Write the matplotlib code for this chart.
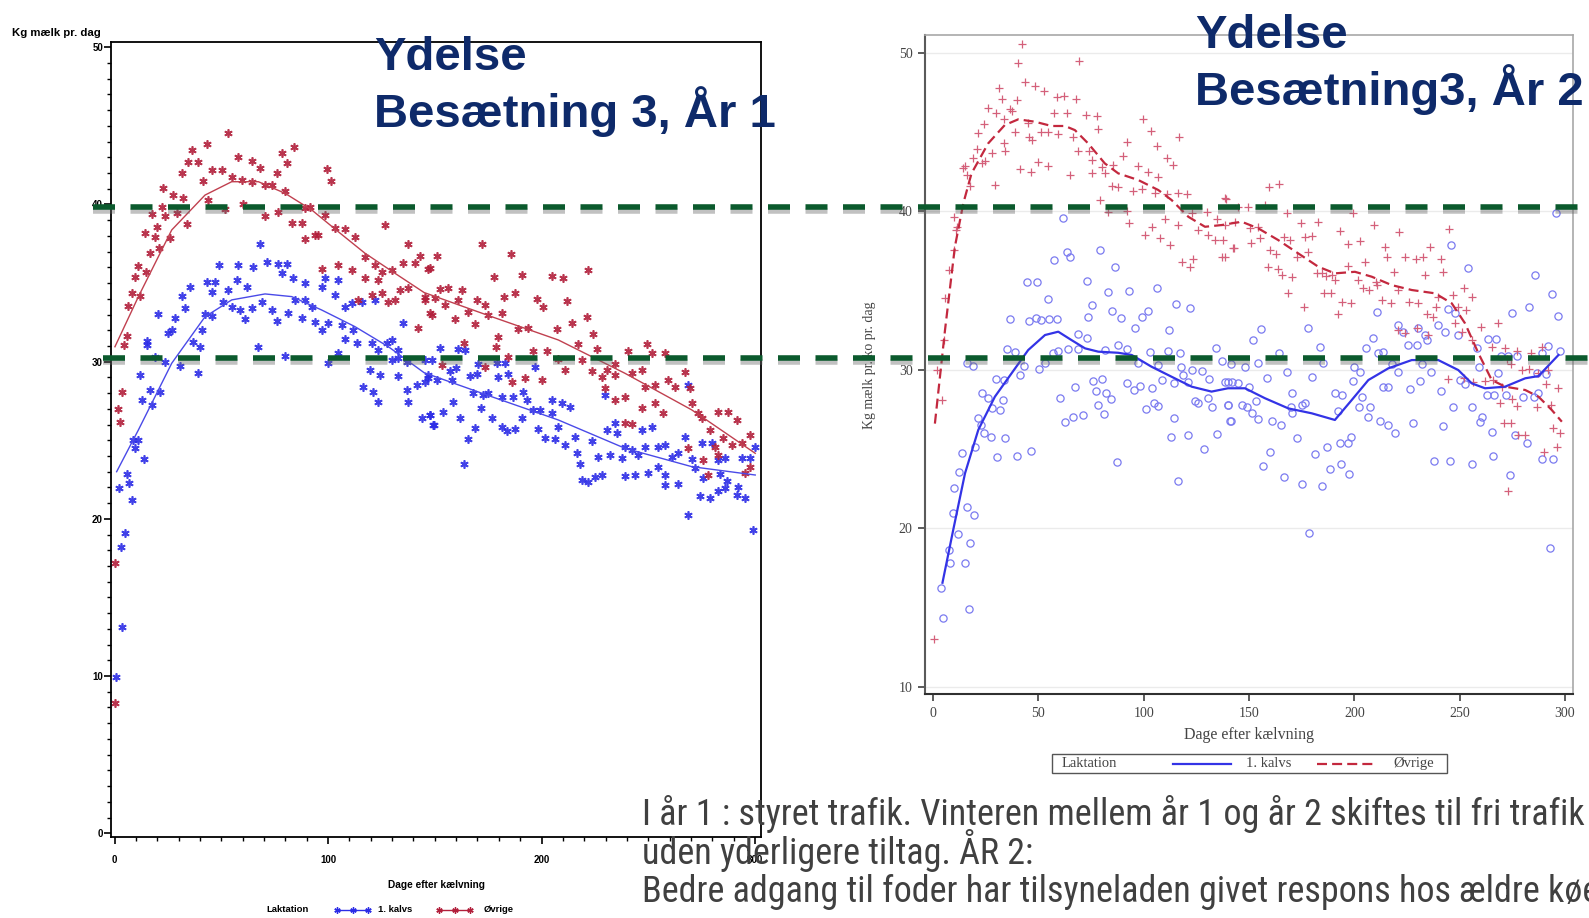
import matplotlib
matplotlib.use('Agg')
import matplotlib.pyplot as plt
from matplotlib.lines import Line2D
from matplotlib.patches import Rectangle
from matplotlib.ticker import MultipleLocator
from matplotlib.font_manager import FontProperties
import matplotlib.patheffects as pe
from matplotlib import font_manager as fm

# ---------------- data (day after calving, kg milk per day) ----------------
# Left chart: Besætning 3, År 1
left_blue_points = [
    (3.7, 13.14), (0.7, 9.96), (4.9, 19.08), (2.9, 18.23),
    (68.2, 37.49), (48.9, 36.15), (58.0, 36.15), (65.0, 36.0), (71.3, 36.36), (76.7, 36.21), (80.7, 36.21),
    (78.3, 35.62), (83.8, 35.3), (89.2, 34.99), (35.4, 34.77), (43.2, 35.09), (47.1, 35.09), (57.2, 35.2),
    (61.9, 34.77), (45.5, 34.45), (53.3, 34.56), (31.5, 34.18), (98.6, 35.3), (97.1, 34.77), (104.8, 35.2),
    (103.3, 34.24), (33.0, 33.4), (51.0, 33.82), (54.9, 33.5), (58.8, 33.29), (64.3, 33.43), (68.9, 33.82),
    (73.6, 33.29), (84.5, 33.92), (89.2, 33.92), (92.4, 33.5), (81.4, 33.08), (87.7, 32.76), (20.5, 33.03),
    (28.3, 32.76), (42.4, 33.03), (45.5, 32.91), (61.1, 32.7), (76.0, 32.61), (93.9, 32.54), (100.1, 32.44),
    (108.0, 33.5), (111.1, 33.71), (115.8, 33.82), (122.0, 33.92), (25.2, 31.81), (26.8, 32.02), (40.8, 32.02),
    (97.1, 32.02), (106.4, 32.33), (111.9, 32.02), (108.0, 31.42), (113.4, 31.17), (120.5, 31.17), (135.3, 32.44),
    (127.5, 31.17), (129.8, 31.38), (15.1, 31.34), (15.1, 31.06), (36.9, 31.27), (40.0, 30.91), (132.9, 30.74),
    (123.6, 30.74), (67.4, 30.91), (79.9, 30.38), (19.0, 30.28), (23.7, 30.0), (30.7, 29.73), (39.3, 29.26),
    (100.1, 29.9), (104.8, 30.53), (129.8, 30.11), (132.9, 30.21), (136.9, 30.0), (11.9, 29.15), (16.6, 28.2),
    (21.3, 28.09), (12.7, 27.56), (17.4, 27.24), (119.7, 29.47), (124.4, 29.15), (132.6, 29.09), (116.5, 28.37),
    (121.2, 28.09), (136.9, 28.2), (141.6, 28.52), (145.4, 28.73), (147.0, 29.15), (123.3, 27.45), (137.3, 27.45),
    (143.9, 26.4), (147.8, 26.61), (149.3, 25.97), (8.8, 25.02), (11.2, 25.02), (9.6, 24.49), (14.0, 23.79),
    (5.7, 22.84), (6.8, 22.3), (2.1, 21.95), (8.1, 21.2),
    (152.5, 30.85), (161.0, 30.79), (164.2, 30.74), (145.4, 30.11), (148.6, 30.11), (157.2, 29.43), (159.8, 29.58),
    (170.4, 29.85), (179.0, 29.9), (182.9, 29.9), (197.0, 29.64), (147.0, 28.94), (150.9, 28.83), (157.9, 28.83),
    (166.5, 29.11), (169.7, 29.22), (184.5, 29.22), (179.8, 29.04), (168.1, 28.03), (172.7, 27.88), (175.1, 28.03),
    (181.4, 27.77), (186.8, 27.77), (191.5, 28.09), (193.1, 27.56), (196.2, 26.93), (199.3, 26.93), (204.8, 27.56),
    (209.5, 27.35), (213.4, 27.14), (204.8, 26.72), (158.7, 27.45), (154.0, 26.82), (147.8, 26.61), (161.8, 26.4),
    (171.7, 27.03), (176.7, 26.4), (190.7, 26.4), (149.8, 25.97), (168.9, 25.76), (181.4, 25.86), (183.7, 25.61),
    (187.6, 25.7), (198.5, 25.7), (207.9, 25.86), (165.4, 25.06), (201.6, 25.13), (206.3, 25.06), (211.0, 24.7),
    (215.7, 25.19), (223.5, 24.97), (216.5, 24.17), (230.5, 25.65), (234.4, 26.08), (235.2, 25.44), (246.9, 25.65),
    (251.6, 25.86), (267.2, 25.23), (163.8, 23.49), (218.0, 23.49), (218.8, 22.47), (221.9, 22.37), (225.1, 22.68),
    (228.2, 22.79), (226.6, 23.96), (232.1, 24.06), (237.6, 23.85), (239.1, 24.59), (242.3, 24.38), (245.3, 24.06),
    (248.5, 24.59), (254.7, 24.59), (257.9, 24.7), (264.1, 24.17), (261.0, 23.96), (254.7, 23.32), (257.9, 22.79),
    (239.1, 22.73), (243.8, 22.79), (250.0, 22.9), (257.9, 22.16), (264.1, 22.22), (270.4, 23.79), (275.0, 24.81),
    (279.7, 24.81), (282.8, 23.75), (286.0, 23.85), (293.8, 23.85), (297.7, 23.85), (271.9, 23.22), (275.8, 22.58),
    (283.6, 22.86), (286.8, 22.43), (282.8, 21.79), (286.0, 21.95), (292.2, 22.05), (291.4, 21.52), (274.2, 21.46),
    (278.9, 21.31), (295.3, 21.35), (268.5, 20.25), (299.2, 19.29), (268.8, 28.52), (229.8, 27.88), (300.0, 24.6),
]
left_red_points = [
    (0.3, 17.2), (0.2, 8.3), (172.0, 37.5), (151.0, 36.7),
    (53.3, 44.57), (43.2, 43.83), (36.2, 43.47), (84.2, 43.64), (78.3, 43.29), (58.0, 43.04), (64.3, 42.77),
    (80.7, 42.66), (39.3, 42.72), (34.6, 42.68), (68.2, 42.3), (99.4, 42.26), (101.4, 41.49), (31.5, 41.98),
    (45.5, 42.19), (50.2, 42.19), (54.9, 41.77), (59.6, 41.56), (64.3, 41.45), (70.5, 41.24), (73.6, 41.24),
    (76.0, 42.02), (79.9, 40.86), (41.6, 41.51), (22.9, 41.03), (27.5, 40.6), (32.2, 40.39), (43.9, 40.28),
    (22.1, 39.86), (17.4, 39.39), (23.7, 39.27), (29.1, 39.44), (51.8, 39.69), (60.3, 40.01), (70.5, 39.27),
    (76.7, 39.54), (89.2, 39.76), (91.6, 39.86), (98.6, 39.33), (33.8, 38.74), (14.3, 38.2), (19.8, 38.55),
    (19.0, 37.95), (26.0, 37.85), (83.0, 38.8), (87.7, 38.8), (93.9, 38.06), (95.5, 38.06), (89.2, 37.78),
    (103.3, 38.48), (108.0, 38.42), (112.7, 37.95), (126.7, 38.69), (137.3, 37.49), (16.6, 36.89), (21.0, 37.21),
    (11.1, 36.09), (14.8, 35.72), (9.6, 35.41), (8.1, 34.35), (11.9, 34.18), (6.5, 33.54), (5.7, 31.63),
    (4.6, 31.06), (3.4, 28.09), (1.8, 26.97), (2.6, 26.18), (97.1, 35.88), (104.8, 36.15), (111.1, 35.83),
    (117.3, 36.68), (122.0, 36.15), (117.3, 35.3), (123.6, 35.2), (125.2, 35.72), (129.8, 35.83), (135.3, 36.3),
    (140.8, 36.26), (143.1, 36.74), (147.0, 35.88), (114.2, 33.92), (120.5, 34.24), (125.2, 34.39), (128.2, 33.82),
    (131.4, 33.92), (133.7, 34.56), (137.6, 34.67), (142.3, 32.12), (145.4, 33.92), (147.8, 33.08),
    (185.7, 36.83), (147.8, 35.94), (177.8, 35.41), (190.7, 35.51), (204.8, 35.45), (210.2, 35.34), (221.9, 35.83),
    (152.5, 34.6), (156.4, 34.67), (162.6, 34.56), (145.4, 34.13), (150.1, 34.03), (161.0, 33.92), (169.7, 33.92),
    (182.6, 34.13), (187.6, 34.35), (197.8, 33.97), (200.9, 33.5), (211.8, 33.86), (173.5, 33.61), (154.8, 33.61),
    (165.7, 33.18), (175.1, 32.97), (181.4, 33.08), (148.6, 32.97), (159.5, 32.7), (168.9, 32.4), (221.2, 32.82),
    (189.1, 32.06), (193.8, 32.16), (207.1, 32.06), (214.2, 32.48), (224.3, 31.76), (179.5, 31.59), (178.7, 30.95),
    (163.8, 31.17), (184.5, 30.28), (196.2, 30.7), (202.4, 30.7), (217.2, 31.12), (225.9, 30.79), (240.7, 30.7),
    (249.3, 31.11), (251.6, 30.53), (257.9, 30.53), (218.8, 30.11), (207.9, 30.15), (234.4, 29.85), (173.5, 29.68),
    (153.3, 29.79), (192.3, 28.94), (200.1, 28.83), (186.0, 28.73), (211.0, 29.47), (223.5, 29.43), (230.5, 29.47),
    (234.4, 29.15), (242.3, 29.26), (246.9, 29.47), (229.8, 28.31), (239.1, 27.77), (234.4, 27.56), (228.2, 29.04),
    (248.5, 28.41), (253.2, 28.52), (259.4, 28.83), (262.5, 28.41), (267.2, 29.36), (269.6, 28.31), (246.9, 27.03),
    (253.2, 27.35), (257.1, 26.72), (270.4, 27.35), (273.4, 26.72), (275.0, 26.4), (282.8, 26.82), (287.5, 26.82),
    (291.4, 26.29), (239.1, 26.08), (242.3, 26.04), (278.9, 25.65), (285.2, 25.13), (289.1, 24.7), (293.8, 24.81),
    (297.7, 25.34), (281.3, 24.59), (275.8, 23.75), (278.1, 22.79), (295.3, 22.9), (282.8, 24.06), (268.8, 24.49),
    (297.7, 23.32),
]
left_blue_fit_day = [1.0, 11.2, 26.8, 42.4, 54.9, 70.5, 83.0, 97.0, 112.6, 128.3, 145.0, 176.7, 207.9, 239.1, 270.4, 300.1]
left_blue_fit_val = [23.0, 25.66, 29.9, 32.86, 33.93, 34.31, 34.14, 33.29, 32.23, 30.95, 29.3, 27.77, 26.29, 24.49, 23.32, 22.79]
left_red_fit_day = [0.2, 11.2, 26.8, 42.4, 54.9, 67.4, 79.9, 92.4, 104.8, 117.3, 131.4, 145.0, 176.7, 207.9, 239.1, 270.4, 300.1]
left_red_fit_val = [30.95, 34.14, 38.38, 40.6, 41.45, 41.45, 40.71, 39.65, 38.27, 36.9, 35.62, 34.4, 32.86, 31.38, 29.26, 26.93, 24.17]

# Right chart: Besætning3, År 2
right_blue_points = [
    (3.9, 16.24), (4.8, 14.32), (16.9, 14.9), (7.7, 18.6), (11.6, 19.63), (15.0, 17.78), (17.3, 19.05), (8.2, 17.78),
    (61.8, 39.55), (57.3, 36.92), (63.4, 37.44), (64.9, 37.13), (79.2, 37.55), (86.3, 36.5), (44.4, 35.51),
    (49.4, 35.51), (72.9, 35.62), (83.1, 34.92), (93.0, 34.98), (106.1, 35.14), (54.3, 34.44), (75.2, 34.08),
    (85.0, 33.72), (89.2, 33.24), (99.0, 33.34), (102.1, 33.72), (115.3, 34.13), (121.9, 33.87), (36.4, 33.18),
    (45.5, 33.09), (48.6, 33.24), (51.2, 33.14), (55.1, 33.18), (58.6, 33.18), (73.6, 33.31), (95.8, 32.65),
    (112.0, 32.51), (68.9, 32.25), (72.9, 31.98), (87.9, 31.56), (91.9, 31.29), (102.9, 31.14), (111.4, 31.2),
    (117.2, 31.07), (134.2, 31.35), (35.2, 31.29), (38.8, 31.14), (59.1, 31.2), (64.1, 31.29), (68.9, 31.29),
    (15.9, 30.44), (19.0, 30.23), (43.1, 30.23), (41.2, 29.67), (50.2, 30.03), (53.1, 30.4), (57.0, 31.07),
    (81.6, 31.24), (97.4, 30.4), (106.9, 30.3), (117.7, 30.15), (122.8, 29.98), (127.8, 29.94), (137.0, 30.57),
    (29.6, 29.39), (33.7, 29.35), (76.0, 29.31), (80.0, 29.39), (67.3, 28.89), (77.1, 28.68), (81.9, 28.55),
    (84.4, 28.13), (91.9, 29.14), (95.5, 28.72), (98.2, 28.97), (104.0, 28.83), (108.5, 29.35), (114.5, 29.14),
    (118.8, 29.67), (120.9, 29.24), (131.0, 29.39), (140.1, 29.24), (23.3, 28.55), (25.8, 28.2), (28.0, 27.6),
    (31.7, 27.46), (33.3, 28.09), (60.2, 28.23), (78.4, 27.77), (81.2, 27.21), (100.9, 27.54), (105.0, 27.88),
    (106.9, 27.71), (124.3, 28.04), (125.9, 27.92), (130.6, 28.2), (132.3, 27.67), (139.9, 27.77), (21.4, 26.93),
    (22.7, 26.51), (24.2, 25.99), (27.4, 25.74), (34.1, 25.67), (71.3, 27.14), (66.5, 27.0), (62.6, 26.7),
    (114.5, 26.93), (140.9, 26.78), (13.8, 24.76), (19.8, 25.14), (30.4, 24.47), (39.8, 24.57), (46.3, 24.89),
    (87.1, 24.2), (112.8, 25.77), (121.1, 25.88), (134.8, 25.94), (128.7, 24.98), (12.4, 23.56), (9.8, 22.52),
    (9.2, 20.98), (15.9, 21.32), (19.5, 20.83), (116.1, 23.0),
    (295.8, 39.87), (245.9, 37.87), (254.2, 36.44), (285.8, 35.98), (294.1, 34.78), (283.0, 33.94), (275.1, 33.6),
    (296.9, 33.39), (210.6, 33.66), (244.4, 33.81), (247.8, 33.6), (155.7, 32.55), (177.9, 32.61), (152.0, 31.87),
    (220.9, 32.82), (223.3, 32.4), (230.1, 32.61), (233.6, 32.19), (239.9, 32.82), (243.1, 32.4), (249.4, 32.19),
    (209.0, 32.02), (225.7, 31.56), (229.6, 31.56), (234.4, 31.87), (164.2, 31.07), (183.7, 31.45), (205.6, 31.35),
    (211.4, 31.07), (213.8, 31.14), (258.1, 31.35), (263.7, 31.92), (267.2, 31.92), (269.7, 30.86), (273.2, 30.86),
    (277.1, 30.86), (291.9, 31.5), (289.0, 31.07), (297.7, 31.2), (141.4, 30.36), (148.1, 30.15), (154.1, 30.44),
    (167.9, 29.87), (179.8, 29.52), (185.3, 30.44), (200.0, 30.19), (202.7, 29.87), (217.8, 30.36), (220.9, 29.87),
    (232.0, 30.36), (236.4, 29.87), (259.2, 30.15), (268.4, 29.77), (286.6, 29.77), (290.9, 29.73), (138.6, 29.24),
    (141.8, 29.24), (144.6, 29.18), (158.4, 29.46), (150.0, 28.89), (199.5, 29.31), (213.8, 28.89), (216.2, 28.89),
    (226.5, 28.76), (231.2, 29.31), (241.2, 28.66), (250.2, 29.35), (252.6, 29.1), (262.9, 28.4), (266.5, 28.4),
    (271.9, 28.4), (287.4, 28.55), (140.1, 27.77), (146.5, 27.77), (153.2, 28.04), (148.9, 27.63), (170.3, 28.55),
    (176.6, 27.92), (175.0, 27.77), (170.3, 27.25), (190.8, 28.55), (194.3, 28.4), (203.5, 28.26), (207.5, 27.63),
    (169.9, 27.67), (151.3, 27.25), (154.4, 26.87), (160.8, 26.78), (165.2, 26.51), (141.4, 26.78), (192.4, 27.41),
    (202.2, 27.67), (206.7, 27.0), (212.2, 26.78), (215.9, 26.51), (228.0, 26.62), (247.0, 27.63), (255.8, 27.63),
    (259.7, 26.72), (260.5, 27.03), (265.3, 26.09), (276.3, 25.88), (280.3, 28.26), (285.5, 28.26), (281.9, 25.39),
    (242.3, 26.45), (219.3, 25.99), (172.6, 25.67), (193.2, 25.39), (196.9, 25.39), (198.4, 25.77), (186.9, 25.1),
    (181.3, 24.66), (160.0, 24.83), (156.8, 23.92), (166.7, 23.25), (175.3, 22.79), (184.5, 22.66), (188.5, 23.72),
    (193.7, 24.05), (197.5, 23.42), (238.0, 24.24), (245.5, 24.24), (256.1, 24.05), (266.0, 24.56), (274.0, 23.36),
    (289.0, 24.35), (294.5, 24.35), (178.6, 19.72), (293.0, 18.73),
]
right_red_points = [
    (0.5, 12.98),
    (42.3, 50.55), (40.4, 49.37), (69.2, 49.5), (43.6, 48.17), (48.3, 47.9), (52.7, 47.6), (31.2, 47.75),
    (58.6, 47.22), (62.2, 47.27), (67.6, 47.06), (26.1, 46.49), (32.5, 47.06), (39.6, 47.02), (29.6, 46.21),
    (36.4, 46.43), (37.5, 46.34), (57.5, 46.21), (63.4, 46.21), (72.5, 46.07), (77.6, 46.01), (33.7, 45.8),
    (24.2, 45.5), (45.1, 45.55), (21.4, 44.91), (38.8, 45.02), (51.2, 45.02), (54.6, 45.02), (59.4, 44.87),
    (46.7, 44.49), (45.5, 44.7), (66.5, 44.7), (78.1, 45.17), (20.6, 43.91), (27.7, 43.65), (34.1, 43.82),
    (33.4, 44.28), (24.6, 43.19), (19.0, 43.34), (23.0, 43.02), (15.1, 42.85), (16.0, 42.28), (41.2, 42.64),
    (46.4, 42.49), (49.6, 43.12), (54.3, 42.85), (64.9, 42.28), (68.9, 43.82), (74.1, 43.82), (75.2, 43.23),
    (80.0, 42.81), (85.5, 42.91), (91.9, 44.38), (90.3, 43.48), (81.6, 42.39), (75.2, 42.39), (84.8, 41.59),
    (87.9, 41.51), (97.4, 42.85), (102.1, 42.49), (106.9, 42.18), (111.2, 43.34), (114.0, 42.91), (99.8, 45.8),
    (103.3, 45.08), (106.1, 44.11), (116.9, 44.7), (95.0, 41.29), (99.3, 41.38), (105.3, 41.13), (110.9, 41.09),
    (116.1, 41.13), (120.4, 41.09), (29.3, 41.65), (17.4, 41.59), (14.0, 42.71), (10.0, 39.65), (11.1, 39.02),
    (10.6, 38.81), (10.0, 37.55), (7.5, 36.29), (5.6, 34.5), (4.9, 31.87), (1.9, 29.98), (4.0, 28.09),
    (79.2, 40.71), (83.1, 39.97), (91.9, 40.03), (93.0, 39.27), (100.6, 38.5), (104.0, 38.98), (110.1, 39.49),
    (107.8, 38.29), (112.4, 37.87), (116.1, 39.13), (122.8, 39.87), (129.9, 39.97), (134.6, 39.49), (125.9, 38.81),
    (130.6, 38.5), (133.8, 38.18), (137.8, 38.18), (118.0, 36.81), (123.5, 36.97), (121.9, 36.46), (137.3, 37.09),
    (142.5, 37.66), (138.9, 40.75),
    (159.5, 41.55), (164.2, 41.72), (138.6, 40.81), (144.9, 40.28), (149.6, 40.28), (157.6, 40.39), (167.9, 39.87),
    (199.5, 39.91), (138.6, 39.13), (143.3, 39.34), (150.4, 38.92), (154.4, 39.02), (174.7, 39.24), (182.6, 39.34),
    (193.2, 38.77), (209.4, 39.13), (221.2, 38.71), (245.0, 38.86), (138.6, 37.13), (143.0, 37.66), (150.9, 37.98),
    (155.2, 38.29), (160.0, 37.55), (162.7, 37.3), (166.7, 38.39), (169.5, 38.18), (172.6, 37.13), (176.6, 38.35),
    (180.0, 38.44), (178.1, 37.44), (196.9, 37.93), (202.7, 38.14), (214.6, 37.72), (224.1, 37.09), (229.2, 37.0),
    (232.8, 37.09), (236.0, 37.72), (241.2, 36.97), (215.4, 37.13), (205.1, 36.81), (158.9, 36.46), (163.9, 36.33),
    (170.3, 35.87), (165.5, 35.98), (182.1, 36.12), (184.5, 36.08), (186.4, 35.91), (189.3, 35.98), (190.8, 35.66),
    (197.1, 36.54), (210.2, 35.55), (201.6, 35.66), (204.3, 35.14), (207.0, 35.03), (210.6, 35.34), (219.0, 36.18),
    (220.9, 35.03), (233.6, 35.98), (242.3, 36.18), (168.6, 34.86), (185.5, 34.86), (188.9, 34.82), (194.0, 34.29),
    (198.4, 34.19), (213.0, 34.4), (217.4, 34.19), (226.0, 34.29), (230.4, 34.19), (239.9, 34.61), (247.0, 34.71),
    (252.3, 35.14), (255.8, 34.61), (176.2, 33.98), (192.4, 33.51), (238.7, 33.98), (234.4, 33.51), (237.5, 33.34),
    (249.1, 33.98), (252.9, 33.77), (247.8, 32.97), (220.9, 32.5), (224.1, 32.3), (229.6, 32.61), (235.2, 32.19),
    (260.2, 32.71), (268.1, 32.97), (251.0, 32.4), (256.1, 31.87), (265.3, 31.45), (271.6, 31.35), (277.1, 31.2),
    (283.9, 31.07), (289.0, 31.45), (272.4, 30.66), (274.4, 30.36), (279.5, 29.98), (283.0, 30.03), (287.1, 29.77),
    (291.9, 29.98), (296.9, 28.83), (290.9, 29.1), (244.4, 29.39), (252.3, 29.46), (256.5, 29.24), (262.1, 29.31),
    (266.0, 29.35), (270.0, 28.93), (286.6, 27.67), (293.4, 27.77), (269.2, 27.88), (274.8, 28.13), (277.1, 27.71),
    (271.3, 26.66), (274.4, 26.62), (277.9, 25.88), (281.1, 25.88), (294.5, 26.3), (297.7, 25.99), (290.3, 24.83),
    (296.2, 25.14), (273.2, 22.37),
]
right_blue_fit_day = [4.4, 9.5, 15.1, 21.4, 29.3, 37.2, 45.1, 53.1, 59.4, 65.7, 72.1, 78.4, 87.9, 94.3, 103.7,
                      113.2, 122.8, 132.2, 140.0, 148.1, 157.6, 168.7, 179.8, 190.8, 198.8, 206.7, 216.2, 227.3,
                      239.9, 249.4, 255.8, 262.1, 271.6, 281.2, 287.5, 297.0]
right_blue_fit_val = [16.56, 19.89, 23.46, 26.2, 28.3, 29.77, 31.24, 32.19, 32.4, 31.87, 31.35, 31.14, 31.07, 30.93,
                      30.19, 29.56, 28.93, 28.62, 28.83, 28.83, 28.2, 27.56, 27.25, 26.83, 28.09, 29.35, 30.09, 30.61,
                      30.61, 29.98, 29.14, 28.83, 28.93, 29.46, 29.6, 30.93]
right_red_fit_day = [0.8, 5.6, 10.3, 14.3, 18.2, 26.1, 34.0, 40.4, 48.3, 56.2, 62.6, 67.3, 73.6, 81.5, 87.9, 97.4,
                     106.9, 113.2, 121.2, 129.1, 137.0, 146.5, 154.4, 163.9, 173.4, 182.9, 190.8, 200.3, 208.3,
                     217.8, 227.3, 238.4, 246.3, 252.6, 259.0, 265.3, 271.7, 281.2, 287.5, 293.8, 298.6]
right_red_fit_val = [26.6, 32.5, 37.76, 40.5, 42.39, 44.28, 45.44, 45.8, 45.65, 45.38, 45.38, 45.12, 44.28, 43.02,
                     42.39, 41.97, 41.34, 40.71, 39.65, 39.02, 39.13, 39.34, 38.92, 38.18, 37.34, 36.5, 36.08, 36.18,
                     35.87, 35.34, 35.03, 34.82, 34.19, 32.93, 31.03, 29.35, 28.93, 28.72, 28.3, 27.46, 26.72]

reference_levels = [40, 30]
x_ticks_left = [0, 100, 200, 300]
x_ticks_right = [0, 50, 100, 150, 200, 250, 300]
y_ticks_left = [0, 10, 20, 30, 40, 50]
y_ticks_right = [10, 20, 30, 40, 50]
legend_labels = ['Laktation', '1. kalvs', 'Øvrige']
title_left = ['Ydelse', 'Besætning 3, År 1']
title_right = ['Ydelse', 'Besætning3, År 2']
body_lines = [
    'I år 1 : styret trafik. Vinteren mellem år 1 og år 2 skiftes til fri trafik –',
    'uden yderligere tiltag. ÅR 2:',
    'Bedre adgang til foder har tilsyneladen givet respons hos ældre køer',
]

# ---------------- layout ----------------
W, H = 1589, 918
fig = plt.figure(figsize=(W / 100, H / 100), dpi=100)
fig.patch.set_facecolor('white')

names = {f.name for f in fm.fontManager.ttflist}
SANS = 'Liberation Sans' if 'Liberation Sans' in names else 'DejaVu Sans'
SERIF = 'Liberation Serif' if 'Liberation Serif' in names else 'DejaVu Serif'


def pick_narrow():
    """Find a condensed / narrow sans font file for the slide body text."""
    ranked = []
    for f in fm.fontManager.ttflist:
        nm = f.name.lower()
        fn = f.fname.lower()
        if f.style != 'normal':
            continue
        w = f.weight if isinstance(f.weight, int) else (400 if f.weight in ('normal', 'regular') else 700)
        if w not in (400, 'normal'):
            continue
        score = None
        if 'liberation sans narrow' in nm:
            score = 0
        elif 'arial narrow' in nm:
            score = 1
        elif ('condensed' in nm or 'condensed' in fn or 'narrow' in fn) and 'bold' not in fn and 'italic' not in fn \
                and 'oblique' not in fn:
            if 'roboto' in nm or 'roboto' in fn:
                score = 2
            elif 'open' in nm or 'noto' in nm or 'lato' in nm or 'inter' in nm:
                score = 3
            elif 'dejavu sans' in nm or 'dejavusans' in fn:
                score = 4
            else:
                score = 5
        elif str(f.stretch) in ('condensed', 'semi-condensed') and 'bold' not in fn and 'mono' not in fn \
                and 'serif' not in nm:
            score = 4
        if score is not None:
            ranked.append((score, f.fname))
    ranked.sort()
    if ranked:
        return FontProperties(fname=ranked[0][1])
    return FontProperties(family=SANS)


NARROW_FP = pick_narrow()


def fx(px):
    return px / W


def fy(py):
    return 1 - py / H


def unzip(pts):
    return [p[0] for p in pts], [p[1] for p in pts]


BLUE_L = '#2c2ce6'
RED_L = '#b21f3b'
ASTER = (6, 2, 0)

# ---- left chart ----
ax1 = fig.add_axes([fx(111.3), fy(837), (761 - 111.3) / W, (837 - 41.5) / H])
ax1.set_xlim(-1.5, 302.8)
ax1.set_ylim(-0.24, 50.37)
bx, by = unzip(left_blue_points)
rx, ry = unzip(left_red_points)
ax1.plot(bx, by, ls='none', marker=ASTER, ms=6, mew=1.2, color=BLUE_L, alpha=0.9)
ax1.plot(rx, ry, ls='none', marker=ASTER, ms=6, mew=1.2, color=RED_L, alpha=0.9)
ax1.plot(left_blue_fit_day, left_blue_fit_val, color='#4a4ae8', lw=1.0)
ax1.plot(left_red_fit_day, left_red_fit_val, color='#c0404f', lw=1.0)
for s in ax1.spines.values():
    s.set_linewidth(1.3)
    s.set_color('black')
ax1.set_xticks(x_ticks_left)
ax1.set_yticks(y_ticks_left)
ax1.xaxis.set_minor_locator(MultipleLocator(10))
ax1.yaxis.set_minor_locator(MultipleLocator(1))
ax1.tick_params(which='major', direction='out', length=5, width=1.2, labelsize=7, pad=1)
ax1.tick_params(which='minor', direction='out', length=3, width=1)
ax1.tick_params(axis='x', which='major', pad=8)
for lab in ax1.get_xticklabels() + ax1.get_yticklabels():
    lab.set_fontweight('bold')
    lab.set_family(SANS)

fig.text(fx(12), fy(33), 'Kg mælk pr. dag', fontsize=8.2, weight='bold', family=SANS, ha='left', va='center')
fig.text(fx(436), fy(885), 'Dage efter kælvning', fontsize=7.3, weight='bold', family=SANS, ha='center', va='center')
fig.text(fx(266.5), fy(910), legend_labels[0], fontsize=6.8, weight='bold', family=SANS, ha='left', va='center')
fig.add_artist(Line2D([fx(337), fx(352.5), fx(368)], [fy(910)] * 3, transform=fig.transFigure,
                      color=BLUE_L, lw=1, marker=ASTER, ms=4.5, mew=1))
fig.text(fx(378), fy(910), legend_labels[1], fontsize=6.8, weight='bold', family=SANS, ha='left', va='center')
fig.add_artist(Line2D([fx(439), fx(454.5), fx(470)], [fy(910)] * 3, transform=fig.transFigure,
                      color=RED_L, lw=1, marker=ASTER, ms=4.5, mew=1))
fig.text(fx(484), fy(910), legend_labels[2], fontsize=6.8, weight='bold', family=SANS, ha='left', va='center')

# ---- right chart ----
ax2 = fig.add_axes([fx(925), fy(694.3), (1572.8 - 925) / W, (694.3 - 35.5) / H])
ax2.set_xlim(-3.9, 303.8)
ax2.set_ylim(9.52, 51.09)
for yv in y_ticks_right:
    ax2.axhline(yv, color='#ebebeb', lw=1, zorder=0)
cbx, cby = unzip(right_blue_points)
crx, cry = unzip(right_red_points)
ax2.plot(cbx, cby, ls='none', marker='o', ms=5.2, mfc='none', mec='#7b7bf0', mew=0.9)
ax2.plot(crx, cry, ls='none', marker='+', ms=6, mec='#d4607a', mew=0.9)
ax2.plot(right_blue_fit_day, right_blue_fit_val, color='#3333e6', lw=1.6)
ax2.plot(right_red_fit_day, right_red_fit_val, color='#c3283e', lw=1.6, dashes=(4.5, 2.3))
ax2.spines['left'].set_color('#5a5a5a')
ax2.spines['left'].set_linewidth(1.5)
ax2.spines['bottom'].set_color('#303030')
ax2.spines['bottom'].set_linewidth(1.5)
for k in ('top', 'right'):
    ax2.spines[k].set_color('#a8a8a8')
    ax2.spines[k].set_linewidth(1.2)
ax2.set_xticks(x_ticks_right)
ax2.set_yticks(y_ticks_right)
ax2.tick_params(direction='out', length=5, width=1.2, color='#404040', labelsize=10,
                labelcolor='#444444', pad=4)
for lab in ax2.get_xticklabels() + ax2.get_yticklabels():
    lab.set_family(SERIF)

fig.text(fx(1249.5), fy(735), 'Dage efter kælvning', fontsize=11.5, family=SERIF, color='#444444',
         ha='center', va='center')
fig.text(fx(869.5), fy(365), 'Kg mælk pr. ko pr. dag', fontsize=10, family=SERIF, color='#444444',
         ha='center', va='center', rotation=90)
fig.add_artist(Rectangle((fx(1052), fy(773)), (1447 - 1052) / W, (773 - 754) / H, transform=fig.transFigure,
                         fill=False, ec='#555555', lw=1))
fig.text(fx(1062), fy(763.5), legend_labels[0], fontsize=10.5, family=SERIF, color='#444444', ha='left', va='center')
fig.add_artist(Line2D([fx(1173), fx(1231)], [fy(763.5)] * 2, transform=fig.transFigure, color='#3333e6', lw=1.6))
fig.text(fx(1246.5), fy(763.5), legend_labels[1], fontsize=10.5, family=SERIF, color='#444444', ha='left', va='center')
fig.add_artist(Line2D([fx(1317), fx(1376)], [fy(763.5)] * 2, transform=fig.transFigure, color='#c3283e', lw=1.6,
                      dashes=(4.5, 2.3)))
fig.text(fx(1393), fy(763.5), legend_labels[2], fontsize=10.5, family=SERIF, color='#444444', ha='left', va='center')

# ---- green reference lines (drawn at figure level across both charts) ----
level_rows = {40: (207.3, 93), 30: (358.3, 103)}
for lvl in reference_levels:
    ypx, x0 = level_rows[lvl]
    fig.add_artist(Line2D([fx(x0), 1.0], [fy(ypx)] * 2, transform=fig.transFigure, color='#0b5a2d', lw=4,
                          dashes=(3.96, 2.79), dash_capstyle='butt', zorder=5,
                          path_effects=[pe.SimpleLineShadow(offset=(0, -3), shadow_color='#666666', alpha=0.4),
                                        pe.Normal()]))

# ---- titles ----
NAVY = '#0e2a6a'
fig.text(fx(374), fy(70), title_left[0], fontsize=34, weight='bold', family=SANS, color=NAVY, va='baseline', zorder=6)
fig.text(fx(374), fy(126.7), title_left[1], fontsize=34, weight='bold', family=SANS, color=NAVY, va='baseline', zorder=6)
fig.text(fx(1195), fy(48), title_right[0], fontsize=34, weight='bold', family=SANS, color=NAVY, va='baseline', zorder=6)
fig.text(fx(1195), fy(105), title_right[1], fontsize=34, weight='bold', family=SANS, color=NAVY, va='baseline', zorder=6)

# ---- body text (slide note, narrow grey face) ----
body_fs = 28
probe = fig.text(0, 0, body_lines[1], fontproperties=NARROW_FP, fontsize=body_fs)
fig.canvas.draw()
wpx = probe.get_window_extent().width
probe.remove()
if wpx > 0:
    body_fs = max(18.0, min(30.0, body_fs * 392.0 / wpx))
baselines = [825, 863.5, 902]
for txt, yb in zip(body_lines, baselines):
    t = fig.text(fx(641.5), fy(yb), txt, fontproperties=NARROW_FP, color='#404040', va='baseline', zorder=7)
    t.set_fontsize(body_fs)

fig.savefig('out.png', dpi=100, facecolor='white')
